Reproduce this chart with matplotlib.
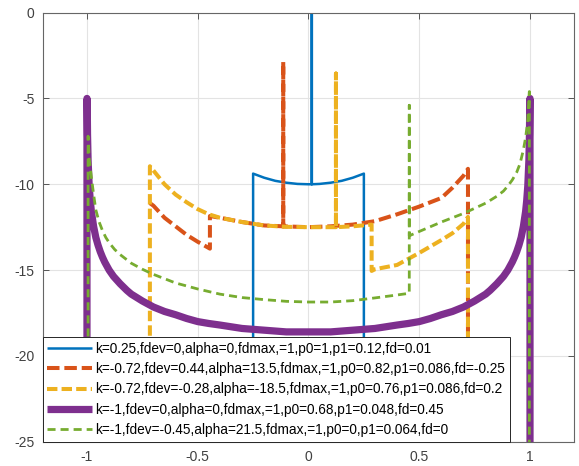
import matplotlib
matplotlib.use("Agg")
import matplotlib.pyplot as plt

plt.rcParams['font.family'] = ['Liberation Sans', 'DejaVu Sans']
plt.rcParams['lines.scale_dashes'] = False

# k=0.25 (blue)
blue_x = [-0.25, -0.25, -0.2, -0.15, -0.1, -0.05, 0.0, 0.015, 0.015, 0.015, 0.05, 0.1, 0.15, 0.2, 0.25, 0.25]
blue_y = [-30, -9.38, -9.62, -9.8, -9.91, -9.98, -10.0, -10.0, 0.0, -10.0, -9.98, -9.91, -9.8, -9.62, -9.38, -30]

# k=-0.72, fdev=0.44 (orange)
red_x = [-0.716, -0.7, -0.65, -0.6, -0.55, -0.5, -0.445, -0.445, -0.4, -0.3, -0.2, -0.114, -0.114, -0.114,
         0.0, 0.1, 0.2, 0.3, 0.4, 0.5, 0.6, 0.65, 0.7, 0.72, 0.72]
red_y = [-11.1, -11.25, -11.95, -12.45, -12.95, -13.35, -13.75, -11.85, -11.95, -12.2, -12.4, -12.45, -2.87, -12.45,
         -12.5, -12.45, -12.35, -12.15, -11.75, -11.3, -10.8, -10.2, -9.5, -9.1, -30]

# k=-0.72, fdev=-0.28 (yellow)
yel_x = [-0.716, -0.716, -0.7, -0.65, -0.6, -0.55, -0.5, -0.45, -0.4, -0.3, -0.2, -0.1, 0.0, 0.1, 0.124, 0.124,
         0.124, 0.2, 0.285, 0.285, 0.3, 0.4, 0.5, 0.6, 0.65, 0.7, 0.72, 0.72]
yel_y = [-30, -8.95, -9.2, -10.0, -10.6, -11.05, -11.45, -11.75, -11.95, -12.2, -12.4, -12.48, -12.5, -12.5, -12.5,
         -3.55, -12.5, -12.45, -12.35, -15.05, -14.95, -14.7, -14.0, -13.25, -12.85, -12.3, -11.9, -30]

# k=-1, fdev=0 (purple)
pur_x = [-1.0, -1.0, -0.999, -0.9975, -0.995, -0.99, -0.985, -0.98, -0.97, -0.96, -0.95, -0.94, -0.93, -0.92,
         -0.9, -0.88, -0.85, -0.82, -0.8, -0.75, -0.7, -0.65, -0.6, -0.55, -0.5, -0.45, -0.4, -0.3, -0.2, -0.1,
         0.0, 0.1, 0.2, 0.3, 0.4, 0.45, 0.5, 0.55, 0.6, 0.65, 0.7, 0.75, 0.8, 0.82, 0.85, 0.88, 0.9, 0.92, 0.93,
         0.94, 0.95, 0.96, 0.97, 0.98, 0.985, 0.99, 0.995, 0.9975, 0.999, 1.0, 1.0]
pur_y = [-30, -5.0, -5.1, -7.1, -8.6, -10.1, -10.97, -11.6, -12.46, -13.1, -13.55, -13.93, -14.25, -14.53,
         -15.0, -15.37, -15.8, -16.18, -16.4, -16.8, -17.15, -17.41, -17.6, -17.82, -18.0, -18.11, -18.2, -18.4,
         -18.5, -18.6, -18.6, -18.6, -18.5, -18.4, -18.2, -18.11, -18.0, -17.82, -17.6, -17.41, -17.15, -16.8,
         -16.4, -16.18, -15.8, -15.37, -15.0, -14.53, -14.25, -13.93, -13.55, -13.1, -12.46, -11.6, -10.97, -10.1,
         -8.6, -7.1, -5.1, -5.0, -30]

# k=-1, fdev=-0.45 (green)
grn_x = [-0.995, -0.995, -0.99, -0.98, -0.97, -0.96, -0.945, -0.93, -0.915, -0.9, -0.875, -0.85, -0.8, -0.75,
         -0.7, -0.6, -0.5, -0.4, -0.3, -0.2, -0.1, 0.0, 0.1, 0.2, 0.3, 0.4, 0.455, 0.455, 0.455, 0.5, 0.6, 0.7,
         0.75, 0.8, 0.85, 0.88, 0.9, 0.92, 0.94, 0.955, 0.97, 0.98, 0.99, 0.997, 0.997]
grn_y = [-30, -7.2, -8.5, -9.6, -10.6, -11.5, -12.2, -12.7, -13.1, -13.4, -13.8, -14.1, -14.6, -14.95,
         -15.25, -15.75, -16.1, -16.4, -16.6, -16.72, -16.82, -16.86, -16.86, -16.78, -16.62, -16.45, -16.35,
         -5.4, -13.0, -12.75, -12.2, -11.7, -11.4, -11.1, -10.7, -10.4, -10.1, -9.75, -9.3, -8.8, -8.0, -7.3,
         -6.3, -4.6, -30]

labels = [
    "k=0.25,fdev=0,alpha=0,fdmax,=1,p0=1,p1=0.12,fd=0.01",
    "k=-0.72,fdev=0.44,alpha=13.5,fdmax,=1,p0=0.82,p1=0.086,fd=-0.25",
    "k=-0.72,fdev=-0.28,alpha=-18.5,fdmax,=1,p0=0.76,p1=0.086,fd=0.2",
    "k=-1,fdev=0,alpha=0,fdmax,=1,p0=0.68,p1=0.048,fd=0.45",
    "k=-1,fdev=-0.45,alpha=21.5,fdmax,=1,p0=0,p1=0.064,fd=0",
]
x_ticks = [-1, -0.5, 0, 0.5, 1]
y_ticks = [0, -5, -10, -15, -20, -25]

fig = plt.figure(figsize=(5.79, 4.66), dpi=100)
ax = fig.add_axes([0.0737, 0.052, 0.9182, 0.921])

ax.plot(blue_x, blue_y, color='#0072BD', lw=1.8, solid_capstyle='butt', label=labels[0])
ax.plot(red_x, red_y, color='#D95319', lw=2.9, dashes=(9, 3.5), dash_joinstyle='round', label=labels[1])
ax.plot(yel_x, yel_y, color='#EDB120', lw=2.9, dashes=(7.5, 3), dash_joinstyle='round', label=labels[2])
ax.plot(pur_x, pur_y, color='#7E2F8E', lw=5.2, solid_joinstyle='round', solid_capstyle='butt',
        label=labels[3])
ax.plot(grn_x, grn_y, color='#77AC30', lw=2.0, dashes=(5.8, 3.6), dash_joinstyle='round', label=labels[4])

ax.set_xlim(-1.2, 1.2)
ax.set_ylim(-25, 0)
ax.set_xticks(x_ticks)
ax.set_xticklabels(["-1", "-0.5", "0", "0.5", "1"])
ax.set_yticks(y_ticks)
ax.set_yticklabels(["0", "-5", "-10", "-15", "-20", "-25"])
ax.grid(True, color='#e3e3e3', lw=0.8)
ax.set_axisbelow(True)
ax.tick_params(direction='in', top=True, right=True, length=4, width=0.7, colors='#555555',
               labelcolor='#404040', labelsize=10, pad=6)
for sp in ax.spines.values():
    sp.set_color('#666666')
    sp.set_linewidth(0.8)

leg = ax.legend(loc='lower left', bbox_to_anchor=(0, 0), borderaxespad=0, fontsize=9.8,
                handlelength=3.25, handletextpad=0.25, labelspacing=0.46, borderpad=0.35,
                fancybox=False, framealpha=1, edgecolor='#262626')
leg.get_frame().set_linewidth(0.7)

fig.savefig("out.png", dpi=100)
